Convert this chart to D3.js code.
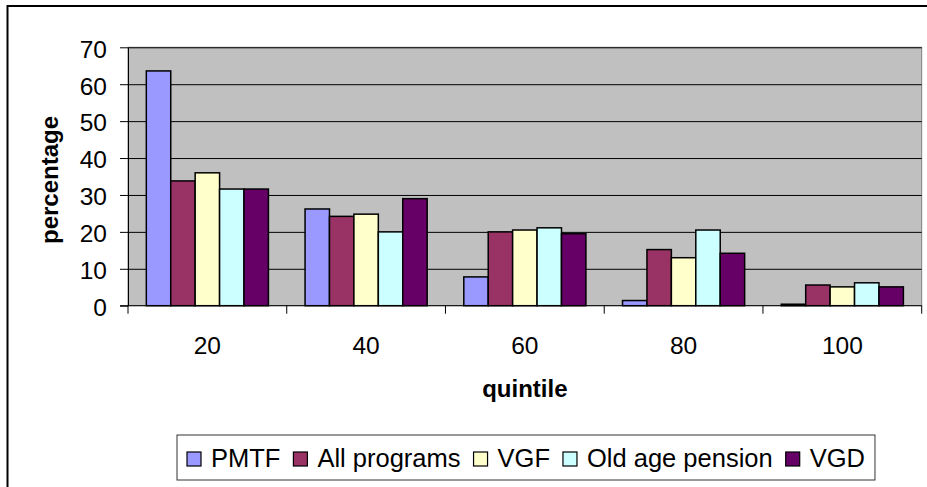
<!DOCTYPE html>
<html>
<head>
<meta charset="utf-8">
<title>quintile chart</title>
<script src="https://d3js.org/d3.v7.min.js"></script>
<style>
  body { margin: 0; background: #fff; }
  svg { display: block; font-family: Arial, "Liberation Sans", sans-serif; }
</style>
</head>
<body>
<svg width="927" height="487"></svg>
<script>
// data
const quintiles = ["20", "40", "60", "80", "100"];
const seriesNames = ["PMTF", "All programs", "VGF", "Old age pension", "VGD"];
const pmtf        = [63.6, 26.2, 7.8, 1.4, 0.4];
const allPrograms = [33.8, 24.2, 20.0, 15.2, 5.6];
const vgf         = [36.0, 24.8, 20.5, 13.0, 5.1];
const oldAge      = [31.6, 20.0, 21.1, 20.5, 6.2];
const vgd         = [31.6, 29.0, 19.5, 14.2, 5.1];
const yTicks = [0, 10, 20, 30, 40, 50, 60, 70];
const colors = ["#9999FF", "#993366", "#FFFFCC", "#CCFFFF", "#660066"];

const seriesValues = [pmtf, allPrograms, vgf, oldAge, vgd];

const svg = d3.select("svg");

// chart frame (only left & top visible)
svg.append("path")
  .attr("d", "M7.5,487 V6 H927")
  .attr("fill", "none")
  .attr("stroke", "#000")
  .attr("stroke-width", 2);

const plot = { left: 128, right: 921.7, top: 47.3, bottom: 305.7 };

const x0 = d3.scaleBand()
  .domain(quintiles)
  .range([plot.left, plot.right]);

const bw = x0.bandwidth();
const x1 = d3.scaleBand()
  .domain(seriesNames)
  .range([bw * 0.75 / 6.5, bw * 5.75 / 6.5]);

const y = d3.scaleLinear()
  .domain([0, 70])
  .range([plot.bottom, plot.top]);

// plot background
svg.append("rect")
  .attr("x", plot.left)
  .attr("y", plot.top)
  .attr("width", plot.right - plot.left)
  .attr("height", plot.bottom - plot.top)
  .attr("fill", "#C0C0C0")
  .attr("stroke", "#808080")
  .attr("stroke-width", 1);

// gridlines
svg.append("g")
  .attr("transform", `translate(${plot.left},0)`)
  .call(d3.axisLeft(y).tickValues(yTicks.slice(1)).tickSize(-(plot.right - plot.left)).tickFormat(""))
  .call(g => g.select(".domain").remove())
  .call(g => g.selectAll("line").attr("stroke", "#000").attr("stroke-width", 1));

// bars
const rows = quintiles.map((q, i) => ({ q, vals: seriesNames.map((s, j) => ({ s, j, v: seriesValues[j][i] })) }));

svg.append("g")
  .selectAll("g")
  .data(rows)
  .join("g")
  .attr("transform", d => `translate(${x0(d.q)},0)`)
  .selectAll("rect")
  .data(d => d.vals)
  .join("rect")
  .attr("x", d => x1(d.s))
  .attr("y", d => y(d.v))
  .attr("width", x1.bandwidth())
  .attr("height", d => y(0) - y(d.v))
  .attr("fill", d => colors[d.j])
  .attr("stroke", "#000")
  .attr("stroke-width", 1.5);

// y axis
const yAxis = svg.append("g")
  .attr("transform", `translate(${plot.left},0)`)
  .call(d3.axisLeft(y).tickValues(yTicks).tickSize(8).tickPadding(13).tickSizeOuter(0));
yAxis.select(".domain").attr("stroke", "#000");
yAxis.selectAll("line").attr("stroke", "#000");
yAxis.selectAll("text")
  .attr("font-size", 24.5)
  .attr("fill", "#000")
  .attr("font-family", "Arial, 'Liberation Sans', sans-serif")
  .attr("dy", "0.4em");

// x axis
const xAxis = svg.append("g")
  .attr("transform", `translate(0,${plot.bottom})`);
xAxis.append("line")
  .attr("x1", plot.left - 8)
  .attr("x2", plot.right)
  .attr("stroke", "#000");
xAxis.selectAll("line.tick")
  .data(quintiles.map(q => x0(q)).concat([plot.right]))
  .join("line")
  .attr("class", "tick")
  .attr("x1", d => d)
  .attr("x2", d => d)
  .attr("y1", 0)
  .attr("y2", 8)
  .attr("stroke", "#000");
xAxis.selectAll("text")
  .data(quintiles)
  .join("text")
  .attr("x", d => x0(d) + bw / 2)
  .attr("y", 48.5)
  .attr("text-anchor", "middle")
  .attr("font-size", 24.5)
  .text(d => d);

// axis titles
svg.append("text")
  .attr("transform", "translate(58,180) rotate(-90)")
  .attr("text-anchor", "middle")
  .attr("font-size", 24)
  .attr("font-weight", "bold")
  .text("percentage");

svg.append("text")
  .attr("x", (plot.left + plot.right) / 2)
  .attr("y", 397)
  .attr("text-anchor", "middle")
  .attr("font-size", 24)
  .attr("font-weight", "bold")
  .text("quintile");

// legend
const legend = svg.append("g");
const legendBox = legend.append("rect")
  .attr("x", 177)
  .attr("y", 435)
  .attr("height", 45)
  .attr("fill", "#fff")
  .attr("stroke", "#333")
  .attr("stroke-width", 1);

let lx = 187;
seriesNames.forEach((name, i) => {
  legend.append("rect")
    .attr("x", lx)
    .attr("y", 452)
    .attr("width", 14)
    .attr("height", 14)
    .attr("fill", colors[i])
    .attr("stroke", "#000")
    .attr("stroke-width", 1.2);
  const t = legend.append("text")
    .attr("x", lx + 24)
    .attr("y", 466.5)
    .attr("font-size", 25.5)
    .text(name);
  lx += 24 + t.node().getComputedTextLength() + 13;
});
legendBox.attr("width", lx - 177 - 3);
</script>
</body>
</html>
